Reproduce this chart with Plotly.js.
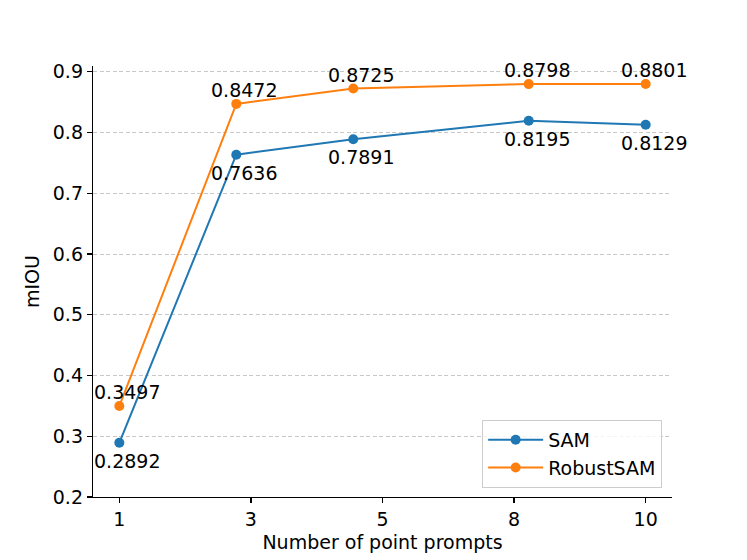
<!DOCTYPE html>
<html>
<head>
<meta charset="utf-8">
<script src="https://cdn.plot.ly/plotly-3.0.1.min.js"></script>
<style>html,body{margin:0;padding:0;background:#fff;}#chart{width:747px;height:560px;}</style>
</head>
<body>
<div id="chart"></div>
<script>
const pointPrompts = [1, 3, 5, 8, 10];
const samMiou = [0.2892, 0.7636, 0.7891, 0.8195, 0.8129];
const robustSamMiou = [0.3497, 0.8472, 0.8725, 0.8798, 0.8801];
const xTickVals = [1, 3.25, 5.5, 7.75, 10];
const xTickText = ['1', '3', '5', '8', '10'];
const yTickVals = [0.2, 0.3, 0.4, 0.5, 0.6, 0.7, 0.8, 0.9];

const FONT = 'DejaVu Sans, Liberation Sans, sans-serif';
const blue = '#1f77b4', orange = '#ff7f0e';

const traces = [
  {x: pointPrompts, y: samMiou, name: 'SAM', mode: 'lines+markers',
   line: {color: blue, width: 2}, marker: {color: blue, size: 10}},
  {x: pointPrompts, y: robustSamMiou, name: 'RobustSAM', mode: 'lines+markers',
   line: {color: orange, width: 2}, marker: {color: orange, size: 10}}
];

const annotations = [];
pointPrompts.forEach((p, i) => {
  annotations.push({x: p, y: samMiou[i], xref: 'x', yref: 'y', text: samMiou[i].toFixed(4),
    showarrow: false, xshift: 8, yshift: -18, font: {family: FONT, size: 19, color: '#000'}});
  annotations.push({x: p, y: robustSamMiou[i], xref: 'x', yref: 'y', text: robustSamMiou[i].toFixed(4),
    showarrow: false, xshift: 8, yshift: 14, font: {family: FONT, size: 19, color: '#000'}});
});

const layout = {
  width: 747, height: 560,
  margin: {l: 93, r: 75, t: 66, b: 63},
  paper_bgcolor: '#fff', plot_bgcolor: '#fff',
  font: {family: FONT, size: 19, color: '#000'},
  hovermode: false,
  xaxis: {
    range: [0.55, 10.45], tickmode: 'array', tickvals: xTickVals, ticktext: xTickText,
    showgrid: false, zeroline: false, showline: true, linecolor: '#000', linewidth: 1.2,
    ticks: 'outside', ticklen: 5, tickwidth: 1.2, tickcolor: '#000',
    tickfont: {family: FONT, size: 19},
    title: {text: 'Number of point prompts', font: {family: FONT, size: 19}, standoff: 6}
  },
  yaxis: {
    range: [0.2, 0.9096], tickmode: 'array', tickvals: yTickVals,
    ticktext: yTickVals.map(v => v.toFixed(1)),
    showgrid: true, gridcolor: '#c8c8c8', griddash: '4px,2.5px', gridwidth: 1,
    zeroline: false, showline: true, linecolor: '#000', linewidth: 1.2,
    ticks: 'outside', ticklen: 5, tickwidth: 1.2, tickcolor: '#000',
    tickfont: {family: FONT, size: 19},
    title: {text: 'mIOU', font: {family: FONT, size: 19}, standoff: 8}
  },
  showlegend: true,
  legend: {
    x: 0.983, y: 0.021, xanchor: 'right', yanchor: 'bottom',
    bgcolor: 'rgba(255,255,255,0.8)', bordercolor: '#cccccc', borderwidth: 1,
    itemwidth: 55, tracegroupgap: 0,
    font: {family: FONT, size: 19}
  },
  annotations: annotations
};

Plotly.newPlot('chart', traces, layout, {displayModeBar: false, staticPlot: true});
</script>
</body>
</html>
